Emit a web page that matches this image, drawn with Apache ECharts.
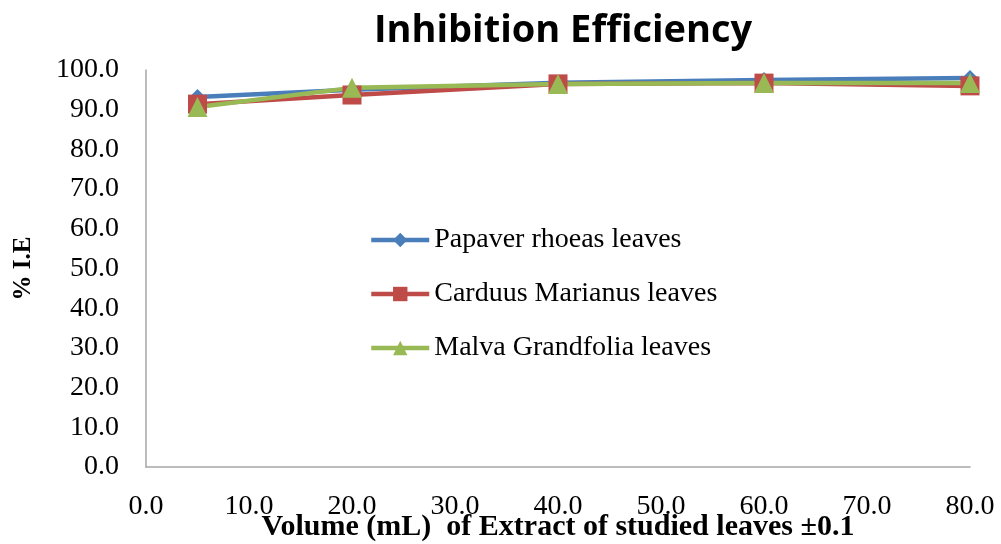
<!DOCTYPE html>
<html>
<head>
<meta charset="utf-8">
<script src="https://cdn.jsdelivr.net/npm/echarts@6/dist/echarts.min.js"></script>
<style>
  html, body { margin: 0; padding: 0; background: #fff; }
  #chart { width: 1001px; height: 544px; }
</style>
</head>
<body>
<div id="chart"></div>
<script>
const volumes = [5, 20, 40, 60, 80];
const papaver = [93.2, 95.0, 96.8, 97.5, 98.0];
const carduus = [91.4, 93.7, 96.5, 96.7, 96.0];
const malva = [90.7, 95.5, 96.5, 96.7, 96.7];

const serif = "'Liberation Serif', 'DejaVu Serif', serif";

function pairs(vals) {
  return volumes.map((v, i) => [v, vals[i]]);
}

const chart = echarts.init(document.getElementById("chart"), null, { renderer: "canvas" });

const option = {
  animation: false,
  backgroundColor: "#fff",
  title: {
    text: "Inhibition Efficiency",
    left: 558,
    textAlign: "center",
    top: 7,
    textStyle: {
      fontFamily: "'Open Sans', sans-serif",
      fontWeight: "bold",
      fontSize: 38,
      color: "#000",
    },
  },
  grid: { left: 146, right: 31, top: 70, bottom: 77, outerBoundsMode: "none" },
  legend: {
    orient: "vertical",
    left: 364,
    top: 220,
    itemWidth: 58,
    itemHeight: 18,
    itemGap: 24,
    lineStyle: { width: 4.5 },
    textStyle: { fontFamily: serif, fontSize: 28, color: "#000", lineHeight: 30 },
    data: ["Papaver rhoeas leaves", "Carduus Marianus leaves", "Malva Grandfolia leaves"],
  },
  xAxis: {
    type: "value",
    min: 0,
    max: 80,
    interval: 10,
    name: "Volume (mL)  of Extract of studied leaves \u00b10.1",
    nameLocation: "middle",
    nameGap: 45,
    nameMoveOverlap: false,
    nameTextStyle: { fontFamily: serif, fontWeight: "bold", fontSize: 30, color: "#000" },
    axisLine: { lineStyle: { color: "#a6a6a6", width: 1.5 } },
    axisTick: { show: false },
    splitLine: { show: false },
    axisLabel: {
      formatter: (v) => v.toFixed(1),
      fontFamily: serif,
      fontSize: 28,
      color: "#000",
      margin: 26,
    },
  },
  yAxis: {
    type: "value",
    min: 0,
    max: 100,
    interval: 10,
    name: "% I.E",
    nameLocation: "middle",
    nameGap: 110,
    nameMoveOverlap: false,
    nameTextStyle: { fontFamily: serif, fontWeight: "bold", fontSize: 25, color: "#000" },
    axisLine: { show: true, lineStyle: { color: "#a6a6a6", width: 1.5 } },
    axisTick: { show: false },
    splitLine: { show: false },
    axisLabel: {
      formatter: (v) => v.toFixed(1),
      fontFamily: serif,
      fontSize: 28,
      color: "#000",
      margin: 27,
    },
  },
  series: [
    {
      name: "Papaver rhoeas leaves",
      type: "line",
      data: pairs(papaver),
      symbol: "diamond",
      symbolSize: 16,
      lineStyle: { color: "#4a7ebb", width: 4.5 },
      itemStyle: { color: "#4a7ebb" },
    },
    {
      name: "Carduus Marianus leaves",
      type: "line",
      data: pairs(carduus),
      symbol: "rect",
      symbolSize: 19,
      lineStyle: { color: "#be4b48", width: 4.5 },
      itemStyle: { color: "#be4b48" },
    },
    {
      name: "Malva Grandfolia leaves",
      type: "line",
      data: pairs(malva),
      symbol: "triangle",
      symbolSize: 20,
      lineStyle: { color: "#98b954", width: 4.5 },
      itemStyle: { color: "#98b954" },
    },
  ],
};

chart.setOption(option);
</script>
</body>
</html>
